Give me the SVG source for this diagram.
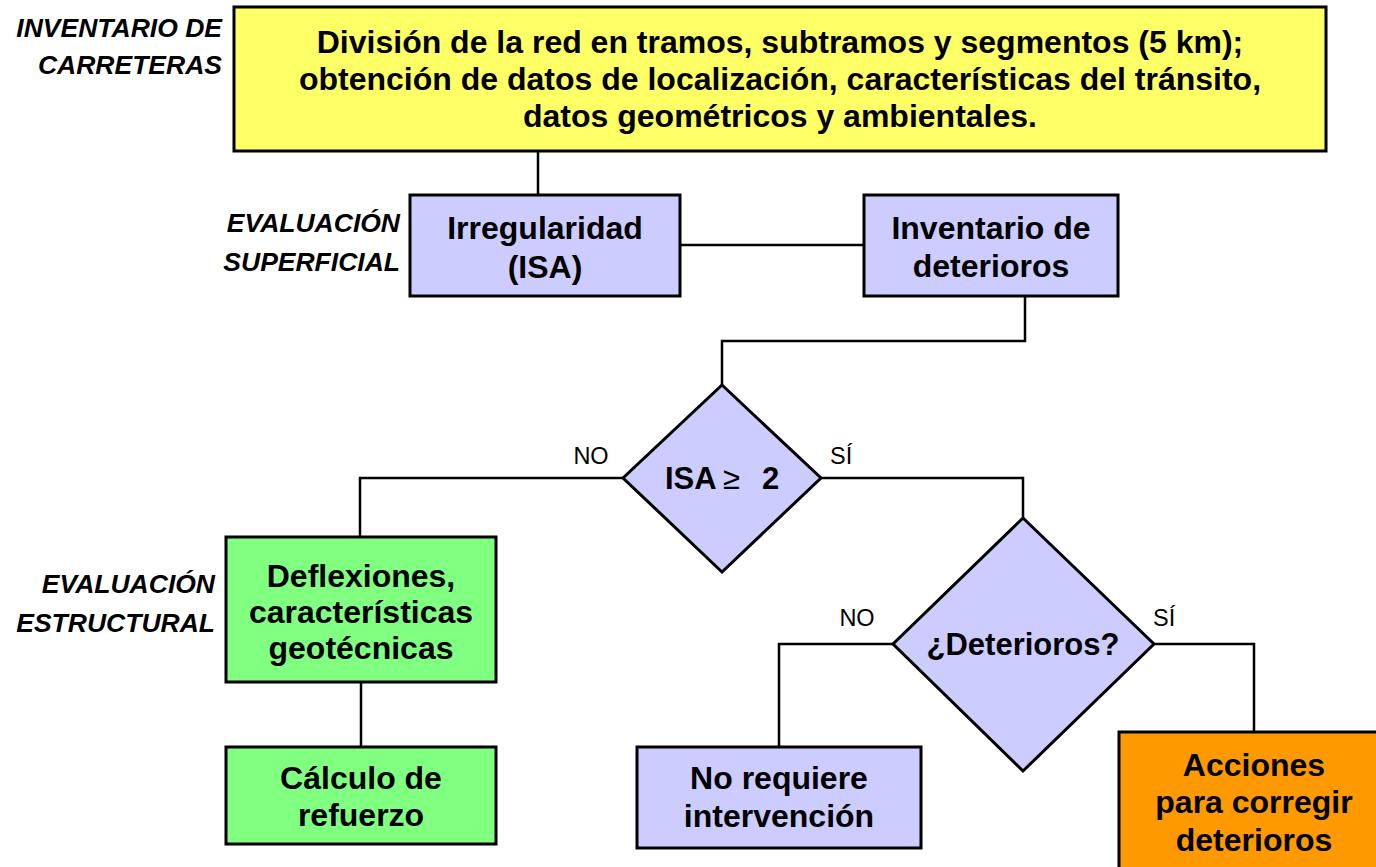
<svg xmlns="http://www.w3.org/2000/svg" width="1376" height="867" viewBox="0 0 1376 867">
<style>
text{font-family:"Liberation Sans",Arial,sans-serif;fill:#000}
.box{stroke:#000;stroke-width:3}
.yel{fill:#FFFF66}
.lav{fill:#CCCCFF}
.grn{fill:#80FF80}
.org{fill:#FF9900}
.t{font-size:32px;font-weight:bold;text-anchor:middle}
.d{font-size:31px;font-weight:bold}
.lbl{font-size:26.5px;font-weight:bold;font-style:italic;text-anchor:end}
.yn{font-size:23.5px}
.conn{fill:none;stroke:#000;stroke-width:2.5}
</style>
<rect width="1376" height="867" fill="#fff"/>
<g id="connectors">
<path class="conn" d="M538 151V195"/>
<path class="conn" d="M680 245H864"/>
<path class="conn" d="M1025 296V341H722V385"/>
<path class="conn" d="M623 478H360V537"/>
<path class="conn" d="M821 478H1023V518"/>
<path class="conn" d="M361 682V747"/>
<path class="conn" d="M893 644H779V747"/>
<path class="conn" d="M1154 644H1254V732"/>
</g>
<g id="labels">
<text class="lbl" x="222" y="37">INVENTARIO DE</text>
<text class="lbl" x="222" y="74">CARRETERAS</text>
<text class="lbl" x="400" y="232">EVALUACIÓN</text>
<text class="lbl" x="400" y="271">SUPERFICIAL</text>
<text class="lbl" x="215" y="593">EVALUACIÓN</text>
<text class="lbl" x="215" y="632">ESTRUCTURAL</text>
<text class="yn" x="591" y="464" text-anchor="middle">NO</text>
<text class="yn" x="830" y="464">SÍ</text>
<text class="yn" x="857" y="626" text-anchor="middle">NO</text>
<text class="yn" x="1153" y="626">SÍ</text>
</g>
<g id="inventario">
<rect class="box yel" x="234" y="7" width="1092" height="144"/>
<text class="t" x="780" y="53">División de la red en tramos, subtramos y segmentos (5 km);</text>
<text class="t" x="780" y="90">obtención de datos de localización, características del tránsito,</text>
<text class="t" x="780" y="127">datos geométricos y ambientales.</text>
</g>
<g id="irregularidad">
<rect class="box lav" x="410" y="195" width="270" height="101"/>
<text class="t" x="545" y="239">Irregularidad</text>
<text class="t" x="545" y="278">(ISA)</text>
</g>
<g id="inv-deterioros">
<rect class="box lav" x="864" y="195" width="254" height="101"/>
<text class="t" x="991" y="239">Inventario de</text>
<text class="t" x="991" y="277">deterioros</text>
</g>
<g id="isa-decision">
<polygon class="box lav" points="722,385 821,478 722,572 623,478"/>
<text class="d" x="665" y="489">ISA<tspan x="723" font-weight="normal">≥</tspan><tspan x="762">2</tspan></text>
</g>
<g id="deterioros-decision">
<polygon class="box lav" points="1023,518 1154,644 1023,771 893,644"/>
<text class="d" x="1023" y="655" text-anchor="middle">¿Deterioros?</text>
</g>
<g id="deflexiones">
<rect class="box grn" x="226" y="537" width="270" height="145"/>
<text class="t" x="361" y="587">Deflexiones,</text>
<text class="t" x="361" y="623">características</text>
<text class="t" x="361" y="659">geotécnicas</text>
</g>
<g id="calculo">
<rect class="box grn" x="226" y="747" width="270" height="97"/>
<text class="t" x="361" y="789">Cálculo de</text>
<text class="t" x="361" y="826">refuerzo</text>
</g>
<g id="no-requiere">
<rect class="box lav" x="637" y="747" width="284" height="101"/>
<text class="t" x="779" y="789">No requiere</text>
<text class="t" x="779" y="827">intervención</text>
</g>
<g id="acciones">
<rect class="box org" x="1119" y="732" width="280" height="160"/>
<text class="t" x="1254" y="776">Acciones</text>
<text class="t" x="1254" y="813">para corregir</text>
<text class="t" x="1254" y="851">deterioros</text>
</g>
</svg>
